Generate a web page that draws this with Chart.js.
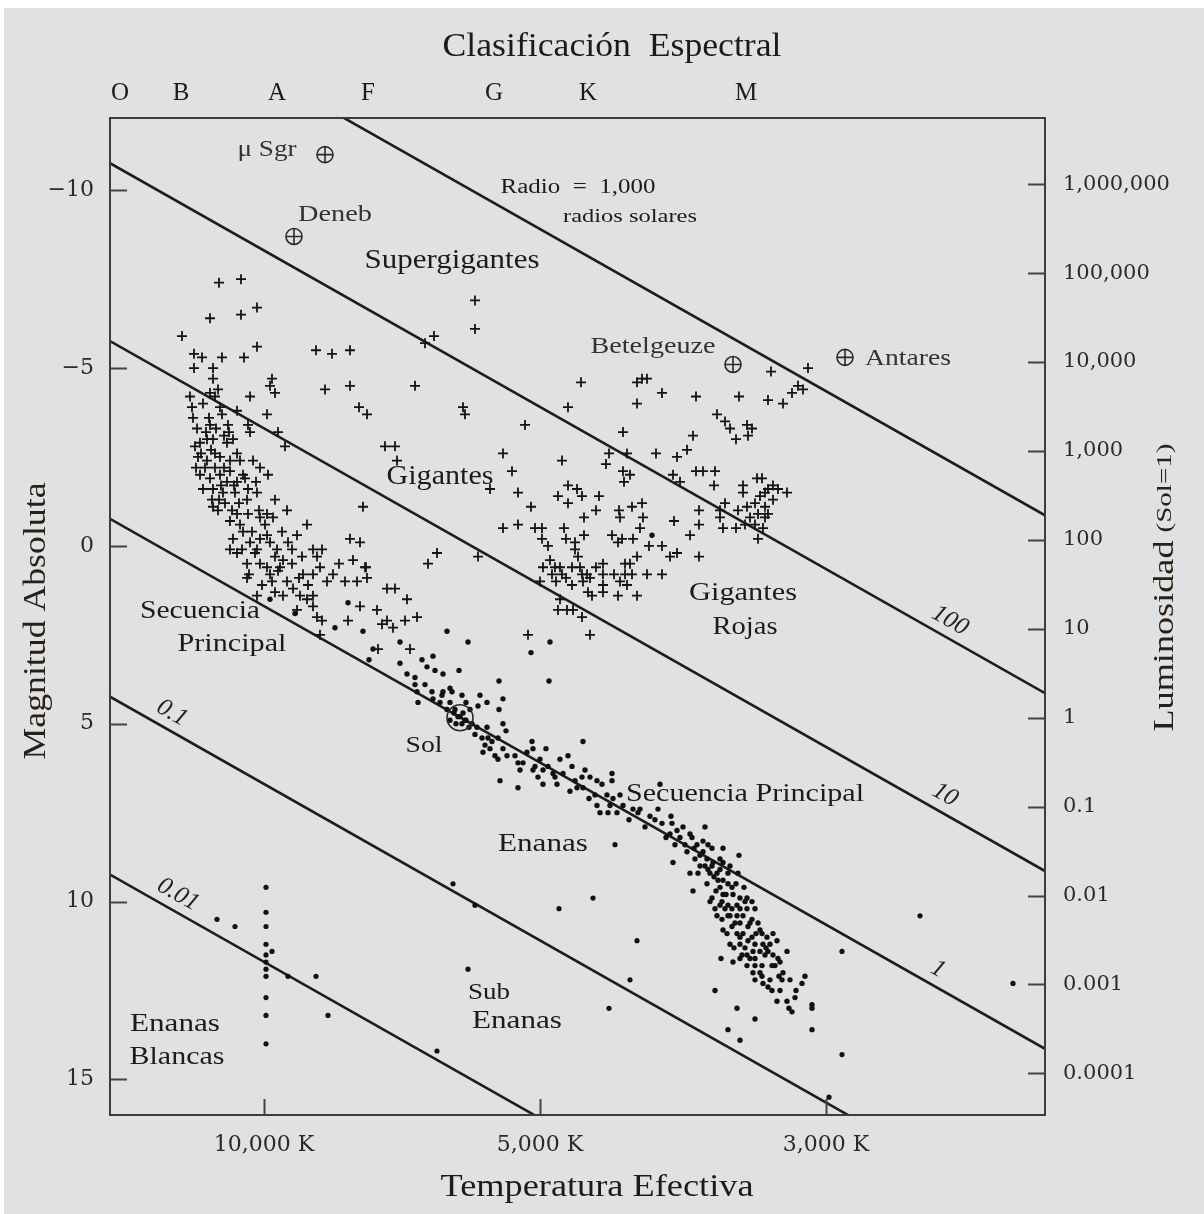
<!DOCTYPE html>
<html lang="es">
<head>
<meta charset="utf-8">
<title>Diagrama Hertzsprung-Russell</title>
<script src="https://cdn.jsdelivr.net/npm/chart.js@4.4.1/dist/chart.umd.min.js"></script>
<style>
  html, body { margin: 0; padding: 0; background: #fff; }
  #wrap { position: absolute; left: 0; top: 0; width: 1204px; height: 1214px; }
</style>
</head>
<body>
<div id="wrap"><canvas id="hr" width="1204" height="1214"></canvas></div>
<script>
'use strict';

/* ---- axes ---- */
// x is a position along the (non-linear) temperature scale, 0 = left edge
const X_MIN = 0, X_MAX = 93.5;
const MAG_MIN = -12.03, MAG_MAX = 16.0;   // absolute magnitude, top / bottom
const SUN_MAG = 4.83;

const spectralClasses = ['O', 'B', 'A', 'F', 'G', 'K', 'M'];
const spectralPos     = [1.0, 7.1, 16.7, 25.8, 38.4, 47.8, 63.6];
const tempLabels      = ['10,000 K', '5,000 K', '3,000 K'];
const tempPos         = [15.4, 43.0, 71.6];
const magTicks        = [-10, -5, 0, 5, 10, 15];
const lumValues       = [1e6, 1e5, 1e4, 1e3, 100, 10, 1, 0.1, 0.01, 0.001, 0.0001];
const lumLabels       = ['1,000,000', '100,000', '10,000', '1,000', '100', '10', '1', '0.1', '0.01', '0.001', '0.0001'];

/* ---- constant radius lines ---- */
const radii        = [0.01, 0.1, 1, 10, 100, 1000];
const radiusLabels = ['0.01', '0.1', '1', '10', '100', ''];
const sunRadiusLine = [[0, -0.76], [93.5, 14.14]];   // R = 1 R_sol

/* ---- stars ---- */
const giants = [
  [10.9,-7.4],[13.1,-7.5],[14.7,-6.7],[13.1,-6.5],[10.0,-6.4],[7.2,-5.9],[14.7,-5.6],[13.4,-5.3],[11.2,-5.3],[8.4,-5.4],
  [9.2,-5.3],[8.4,-5.0],[10.3,-5.0],[10.3,-4.7],[16.2,-4.7],[16.0,-4.5],[16.5,-4.3],[14.0,-4.2],[20.6,-5.5],[22.2,-5.4],
  [24.0,-5.5],[21.5,-4.4],[24.0,-4.5],[24.9,-3.9],[25.7,-3.7],[30.5,-4.5],[32.4,-5.9],[31.5,-5.7],[27.5,-2.8],[28.5,-2.8],
  [28.7,-2.4],[25.3,-1.1],[32.7,0.2],[31.8,0.5],[24.0,-0.2],[25.0,-0.1],[25.6,0.6],
  [10.0,-4.3],[10.8,-4.4],[10.5,-4.2],[8.0,-4.2],[8.2,-3.9],[9.3,-4.0],[11.0,-3.9],[8.3,-3.6],[10.0,-3.4],[11.2,-3.7],
  [11.8,-3.4],[12.7,-3.8],[13.8,-3.4],[14.0,-3.2],[15.7,-3.7],[16.8,-3.2],[17.5,-2.8],
  [8.5,-2.8],[9.0,-2.9],[9.7,-3.0],[10.3,-3.0],[8.8,-2.5],[9.7,-2.4],[10.5,-2.6],[11.7,-2.9],[12.3,-3.0],[12.7,-2.6],
  [12.0,-2.4],[13.0,-2.4],
  [9.0,-2.0],[10.0,-1.9],[11.0,-2.0],[11.7,-1.8],[12.7,-1.8],[9.3,-1.6],[10.3,-1.6],[11.3,-1.5],[12.5,-1.5],[13.5,-1.9],
  [14.3,-2.4],[15.0,-2.2],[15.8,-2.0],[13.8,-1.6],[14.7,-1.5],
  [10.3,-1.1],[10.8,-1.0],[12.2,-1.0],[12.7,-0.9],[13.0,-0.6],[12.0,-0.7],[13.7,-1.3],[13.8,-0.9],[15.0,-0.8],[15.7,-0.9],
  [15.5,-0.6],[16.5,-1.3],[17.7,-1.0],[19.7,-0.6],[13.3,-0.4],
  [12.3,-0.2],[12.0,0.1],[12.7,0.2],[14.0,-0.1],[14.7,0.1],[15.0,-0.2],[15.7,-0.3],[16.7,0.1],[17.8,-0.1],[18.7,-0.3],
  [16.5,0.3],[17.3,0.4],[18.2,0.5],[20.3,0.1],[21.2,0.1],[20.7,0.3],[14.5,0.2],
  [13.7,0.5],[15.0,0.5],[15.7,0.6],[16.0,0.8],[16.8,0.7],[17.7,1.0],[19.3,0.8],[20.3,0.8],[21.7,1.0],[22.3,0.8],
  [23.5,1.0],[24.7,1.0],[25.7,0.9],[25.5,0.6],[13.7,0.9],[16.2,1.0],[16.5,1.3],[17.3,1.4],[18.3,1.2],[19.0,1.4],
  [20.3,1.4],[19.7,1.5],[14.7,1.4],
  [20.3,1.7],[20.7,2.0],[21.2,2.1],[18.7,1.8],[25.0,1.7],[26.7,1.8],[27.2,2.2],[27.7,2.1],[28.3,2.3],[29.5,2.1],
  [29.7,1.5],[30.7,2.0],[28.5,1.2],[27.7,1.2],[23.8,2.1],[26.8,2.9],[30.0,2.9],[21.0,2.5],
  [9.6,-3.2],[10.6,-3.3],[11.4,-3.1],[9.1,-2.6],[10.1,-2.7],[11.0,-2.5],[11.4,-2.2],[10.5,-2.2],[9.5,-2.2],[12.0,-2.1],
  [12.4,-1.7],[11.1,-1.7],[10.2,-1.3],[11.5,-1.2],[12.9,-1.2],[13.3,-2.0],[14.6,-1.8],[14.9,-1.0],[16.3,-0.8],[17.2,-0.4],
  [18.2,0.1],[19.2,0.3],[16.0,-0.1],[13.2,0.1],[13.9,0.8],[15.2,1.1],[18.9,0.9],[21.0,0.6],[22.9,0.5],[24.3,0.4],
  [8.7,-3.3],[9.9,-3.6],[11.9,-3.2],[8.6,-2.2],[10.9,-1.3],[14.2,-0.4],[17.0,0.6],[19.8,1.1],
  [36.5,-6.9],[36.5,-6.1],[35.3,-3.9],[35.5,-3.7],[41.5,-3.4],[47.1,-4.6],[45.8,-3.9],[39.3,-2.6],[40.2,-2.1],[38.0,-1.6],
  [40.8,-1.5],[42.1,-1.1],[39.3,-0.5],[40.8,-0.6],[42.5,-0.5],[43.2,-0.5],[36.8,0.3],[43.0,1.0],[45.2,-2.4],[45.8,-1.7],
  [46.7,-1.6],[44.8,-1.4],[45.8,-1.2],[47.2,-1.4],[48.9,-1.4],[48.6,-1.0],[47.4,-0.8],[45.4,-0.5],[45.6,-0.2],[46.5,-0.1],
  [47.4,-0.3],[43.2,-0.2],[43.8,0.0],[46.5,0.1],[46.8,0.3],[44.0,0.4],[44.5,0.6],[43.3,0.6],[46.2,0.6],[47.0,0.6],
  [47.7,0.8],[45.2,0.8],[46.2,1.1],[47.2,0.8],[47.3,1.0],[49.3,0.5],[49.3,0.8],[49.3,1.1],[49.3,1.3],[48.2,1.4],
  [45.0,1.5],[45.7,1.8],[44.8,1.8],[46.3,1.8],[47.2,2.0],[51.3,-3.2],[51.3,-2.1],[51.4,-1.8],[52.0,-2.0],[49.9,-2.6],
  [49.6,-2.3],[51.7,-2.6],[50.9,-1.0],[51.0,-0.8],[52.2,-1.1],[53.2,-1.2],[53.3,-0.8],[53.0,-0.5],[50.2,-0.3],[51.2,-0.2],
  [52.3,-0.2],[50.8,-0.1],[53.9,0.0],[55.2,0.0],[52.7,0.3],[51.5,0.5],[52.0,0.5],[51.5,0.8],[52.2,0.8],[53.7,0.8],
  [55.2,0.8],[51.0,1.0],[51.7,1.1],[52.7,1.4],[50.8,1.4],[52.7,-4.6],[53.2,-4.7],[53.7,-4.7],[52.7,-4.0],[55.2,-4.3],
  [58.6,-4.2],[54.6,-2.6],[56.7,-2.5],[57.7,-2.7],[58.3,-3.1],[56.3,-2.0],[57.0,-1.8],[56.4,-0.7],[56.0,0.3],[56.7,0.2],
  [58.0,-0.3],[58.9,0.3],[58.9,-1.0],[58.9,-0.6],[58.6,-2.1],[59.3,-2.1],[60.5,-2.1],[60.4,-1.7],[60.7,-3.7],[61.5,-3.5],
  [62.0,-3.3],[62.6,-3.0],[63.7,-3.4],[64.2,-3.3],[63.8,-3.1],[62.9,-4.2],[65.8,-4.1],[67.3,-4.0],[68.2,-4.3],[69.3,-4.4],
  [68.8,-4.5],[66.1,-4.9],[69.8,-5.0],[61.5,-1.2],[61.0,-1.0],[61.0,-0.8],[61.3,-0.5],[62.6,-0.5],[63.3,-1.7],[63.3,-1.5],
  [64.7,-1.9],[65.2,-1.9],[62.8,-1.0],[63.7,-1.1],[64.5,-1.2],[65.0,-1.4],[65.5,-1.5],[65.8,-1.6],[66.3,-1.7],[66.8,-1.6],
  [67.7,-1.5],[64.0,-0.8],[64.8,-0.9],[65.5,-0.8],[65.8,-0.9],[63.5,-0.6],[64.5,-0.6],[65.3,-0.5],[64.8,-0.2],[66.3,-1.3],
  [65.5,-1.1],[48.0,2.5],[41.8,2.5],
  [44.2,0.8],[45.0,0.6],[44.6,1.0],[45.6,0.9],[48.0,0.9],[48.6,0.6],[47.8,1.3],[50.4,0.8]
];

const mainSequence = [
  [54.2,-0.3],
  [23.8,1.6],[22.5,2.3],[16.0,1.5],[18.5,1.9],[25.3,2.4],[26.3,2.9],[29.0,2.7],[33.7,2.4],[25.9,3.2],
  [29.0,3.3],[29.7,3.6],[31.2,3.2],[32.3,3.1],[31.7,3.4],[32.5,3.5],[33.3,3.6],[34.9,3.5],[30.5,3.7],[30.5,3.9],
  [31.5,3.9],[30.7,4.1],[32.2,4.1],[33.3,4.1],[34.0,4.0],[34.2,4.1],[35.2,4.2],[32.3,4.3],[33.0,4.4],[30.8,4.4],
  [34.0,4.4],[33.7,4.6],[34.5,4.6],[35.3,4.7],[34.8,4.8],[35.5,4.9],[35.0,4.8],[34.4,4.7],[35.2,5.0],[35.6,4.9],
  [34.6,5.0],[35.9,5.1],[36.0,4.6],[36.2,5.0],[35.6,4.4],[34.0,4.9],[33.2,4.2],
  [37.0,4.2],[37.7,4.4],[36.8,4.5],[38.9,3.8],[39.3,4.3],[38.9,4.6],[39.3,5.0],[39.6,5.2],[42.1,3.0],[43.9,3.8],
  [35.8,2.7],[44.0,2.7],
  [36.7,5.1],[37.7,5.1],[36.5,5.3],[37.8,5.4],[37.2,5.4],[38.2,5.5],[38.8,5.4],[38.0,5.7],[37.3,5.8],[38.5,5.9],
  [39.3,5.7],[39.7,5.9],[40.5,5.9],[40.8,6.1],[41.7,5.8],[42.2,5.5],[42.3,5.7],[43.6,5.7],[41.3,6.1],[42.5,6.2],
  [42.3,6.3],[43.0,6.0],[43.3,6.3],[42.8,6.5],[44.3,6.4],[44.5,6.5],[45.0,6.0],[45.8,5.9],[45.3,6.4],[44.7,6.7],
  [43.3,6.7],[46.2,6.2],[47.3,5.5],[46.5,6.6],[47.5,6.3],[47.2,6.5],[46.7,6.8],[48.0,6.5],[47.3,6.8],[48.7,6.6],
  [49.2,6.7],[50.2,6.4],[39.0,6.6],[40.8,6.8],[48.5,7.0],[49.7,7.0],[50.3,7.1],[48.7,7.3],[49.0,7.5],[50.0,7.3],
  [49.8,7.5],[51.0,7.0],[51.3,7.3],[50.7,7.5],[52.3,7.4],[52.8,7.5],[55.0,6.7],[50.2,6.6],
  [37.5,5.6],[38.8,6.0],[41.0,6.3],[43.8,6.2],[46.0,6.9],[47.9,7.1],[51.9,7.7],[53.5,7.9],[54.5,7.7],
  [53.0,7.4],[54.8,7.4],[55.2,7.8],[56.2,7.8],[56.0,8.1],[56.7,8.0],[57.0,8.2],[56.5,8.4],[57.3,7.9],[58.0,8.1],
  [58.2,8.2],[59.5,7.9],[58.7,8.4],[59.3,8.6],[59.8,8.4],[60.2,8.5],[59.0,8.7],[56.3,8.9],[58.5,8.8],[59.7,8.8],
  [61.3,8.5],[60.3,8.9],[59.5,9.0],[61.0,8.8],[61.3,8.9],[62.9,8.7],[60.0,9.2],[60.7,9.2],[61.8,9.2],[62.8,9.2],
  [58.0,9.2],[58.8,9.2],[60.8,9.4],[61.3,9.4],[61.8,9.5],[59.7,9.5],[61.0,9.6],[62.2,9.6],[58.3,9.7],[60.2,9.9],
  [60.0,10.0],[61.3,9.8],[62.3,9.8],[63.0,9.9],[63.7,9.9],[61.2,10.0],[61.8,10.1],[62.7,10.1],[60.5,10.2],[61.5,10.2],
  [62.2,10.2],[63.0,10.2],[63.7,10.2],[64.5,10.2],[60.7,10.4],[61.8,10.4],[62.7,10.4],[63.3,10.4],[64.2,10.5],[64.8,10.6],
  [61.3,10.8],[62.2,10.7],[63.0,10.6],[63.8,10.7],[65.0,10.8],[61.7,10.9],[62.7,10.9],[63.3,10.9],[64.2,11.0],[65.2,10.9],
  [65.7,11.0],[66.3,10.9],[66.7,11.1],[62.0,11.2],[63.0,11.2],[63.8,11.1],[64.5,11.2],[65.3,11.2],[66.0,11.2],[63.5,11.3],
  [64.3,11.4],[65.0,11.4],[65.8,11.4],[67.7,11.4],[62.3,11.7],[63.0,11.6],[63.7,11.5],[64.5,11.6],[65.5,11.5],[66.3,11.5],
  [63.7,11.8],[64.5,11.8],[65.2,11.8],[66.2,11.8],[67.0,11.7],[64.3,12.0],[65.2,12.1],[66.5,11.8],[67.3,12.0],[67.2,12.2],
  [64.5,12.2],[65.3,12.3],[66.2,12.5],[67.0,12.5],[66.7,12.8],[67.7,12.8],[68.2,13.1],[68.5,12.7],[68.6,12.5],[69.2,12.3],
  [69.5,12.1],[70.2,12.9],[70.2,13.0],[61.1,11.6],[60.5,12.5],[62.7,13.0],[64.5,13.3],[61.8,13.6],[63.0,13.9],[70.2,13.6],
  [59.0,9.0],[59.8,9.1],[60.4,9.3],[61.0,9.1],[62.0,9.0],[61.6,9.8],[60.6,9.7],[62.6,9.5],[63.4,9.6],[62.0,10.4],
  [61.0,10.1],[63.5,10.0],[64.0,10.6],[62.5,10.6],[61.2,10.5],[63.0,11.0],[64.6,10.9],[65.6,11.3],[64.0,11.6],[66.8,11.6],
  [65.0,12.0],[66.0,12.2],[64.2,10.0],[60.2,9.0],[59.3,8.3],[57.7,8.6],[58.4,8.5],[62.4,11.3],[63.2,11.5],[65.8,12.4],
  [66.9,12.1],[68.0,12.2],[67.9,13.0],[55.6,8.2],[57.5,8.4],[54.0,7.6],[56.1,7.6]
];

const faintStars = [
  [15.6,9.6],[15.6,10.3],[15.6,10.7],[15.6,11.2],[16.2,11.4],[15.6,11.5],[15.6,11.7],[15.6,11.9],[15.6,12.1],[15.6,12.7],
  [15.6,13.2],[15.6,14.0],[10.7,10.5],[12.5,10.7],[17.8,12.1],[20.6,12.1],[21.8,13.2],
  [32.7,14.2],[34.3,9.5],[36.5,10.1],[35.8,11.9],[50.5,8.4],[48.3,9.9],[44.9,10.2],[52.7,11.1],[52.0,12.2],
  [49.9,13.0],[73.2,11.4],[73.2,14.3],[81.0,10.4],[90.3,12.3],[71.9,15.5]
];

const namedStars = ['\u03BC Sgr', 'Deneb', 'Betelgeuze', 'Antares'];
const namedPos   = [[21.5,-11.0], [18.4,-8.7], [62.3,-5.1], [73.5,-5.3]];
const sunPos     = [[35.0, SUN_MAG]];

/* ---- text placed on the plot (data coordinates) ---- */
const SERIF = '"Liberation Serif", "DejaVu Serif", serif';
const plotLabels = [
  { t: '\u03BC Sgr',        x: 15.7, y: -11.13, s: 24, w: 59,  c: '#333' },
  { t: 'Deneb',             x: 22.5, y: -9.32,  s: 24, w: 74,  c: '#333' },
  { t: 'Supergigantes',     x: 34.2, y: -8.03,  s: 28, w: 175 },
  { t: 'Radio  =  1,000',   x: 46.8, y: -10.06, s: 20, w: 155 },
  { t: 'radios solares',    x: 52.0, y: -9.24,  s: 19, w: 134 },
  { t: 'Betelgeuze',        x: 54.3, y: -5.61,  s: 24, w: 125, c: '#333' },
  { t: 'Antares',           x: 79.8, y: -5.27,  s: 24, w: 86,  c: '#333' },
  { t: 'Gigantes',          x: 33.0, y: -1.94,  s: 28, w: 107 },
  { t: 'Secuencia',         x: 9.0,  y: 1.83,   s: 26, w: 120 },
  { t: 'Principal',         x: 12.2, y: 2.76,   s: 26, w: 109 },
  { t: 'Gigantes',          x: 63.3, y: 1.32,   s: 26, w: 108 },
  { t: 'Rojas',             x: 63.5, y: 2.28,   s: 26, w: 65 },
  { t: 'Sol',               x: 31.4, y: 5.63,   s: 24, w: 37 },
  { t: 'Secuencia Principal', x: 63.5, y: 6.99, s: 26, w: 238 },
  { t: 'Enanas',            x: 43.3, y: 8.39,   s: 26, w: 90 },
  { t: 'Sub',               x: 37.9, y: 12.56,  s: 24, w: 42 },
  { t: 'Enanas',            x: 40.7, y: 13.35,  s: 26, w: 90 },
  { t: 'Enanas',            x: 6.5,  y: 13.46,  s: 26, w: 90 },
  { t: 'Blancas',           x: 6.7,  y: 14.37,  s: 26, w: 95 }
];
const radiusLabelPos = [[6.8, 9.8], [6.2, 4.7], [82.8, 11.9], [83.5, 7.0], [84.0, 2.1]];

function radiusLine(r) {
  const off = -5 * Math.log10(r);
  return sunRadiusLine.map(([x, m]) => ({ x, y: m + off }));
}
const toXY = arr => arr.map(([x, y]) => ({ x, y }));

function drawText(ctx, text, cx, cy, size, width, opts = {}) {
  ctx.save();
  ctx.font = (opts.italic ? 'italic ' : '') + size + 'px ' + (opts.family || SERIF);
  ctx.fillStyle = opts.color || '#1b1b1b';
  ctx.textAlign = 'center';
  ctx.textBaseline = 'middle';
  ctx.translate(cx, cy);
  if (opts.rot) ctx.rotate(opts.rot);
  if (width) ctx.scale(width / ctx.measureText(text).width, 1);
  ctx.fillText(text, 0, 0);
  ctx.restore();
}

const hrPlugin = {
  id: 'hrDecor',
  beforeDraw(chart) {
    const ctx = chart.ctx;
    ctx.save();
    ctx.fillStyle = '#e0e1e3';
    ctx.fillRect(4, 8, chart.width - 4, chart.height - 8);
    ctx.restore();
  },
  afterDraw(chart) {
    const { ctx, chartArea: a, scales } = chart;
    const sx = scales.x, sy = scales.y;

    // frame
    ctx.save();
    ctx.strokeStyle = '#3c3c3c';
    ctx.lineWidth = 2;
    ctx.strokeRect(a.left, a.top, a.right - a.left, a.bottom - a.top);

    // inward tick marks
    ctx.lineWidth = 2;
    ctx.strokeStyle = '#444';
    ctx.beginPath();
    magTicks.forEach(m => {
      const y = Math.round(sy.getPixelForValue(m)) + 0.5;
      ctx.moveTo(a.left, y); ctx.lineTo(a.left + 17, y);
    });
    scales.yL.ticks.forEach(t => {
      const y = Math.round(scales.yL.getPixelForValue(t.value)) + 0.5;
      ctx.moveTo(a.right - 17, y); ctx.lineTo(a.right, y);
    });
    tempPos.forEach(v => {
      const x = Math.round(sx.getPixelForValue(v)) + 0.5;
      ctx.moveTo(x, a.bottom); ctx.lineTo(x, a.bottom - 16);
    });
    ctx.stroke();
    ctx.restore();

    // labels on the radius lines, rotated along the lines
    const l0 = radiusLine(1);
    const ang = Math.atan2(sy.getPixelForValue(l0[1].y) - sy.getPixelForValue(l0[0].y),
                           sx.getPixelForValue(l0[1].x) - sx.getPixelForValue(l0[0].x));
    radiusLabelPos.forEach(([x, y], i) => {
      drawText(ctx, radiusLabels[i], sx.getPixelForValue(x), sy.getPixelForValue(y), 25, null,
               { italic: true, rot: ang, color: '#222' });
    });

    // region and star names
    plotLabels.forEach(l => {
      drawText(ctx, l.t, sx.getPixelForValue(l.x), sy.getPixelForValue(l.y), l.s, l.w, { color: l.c });
    });

    // titles
    drawText(ctx, 'Clasificaci\u00F3n  Espectral', 612, 47, 34, 339);
    drawText(ctx, 'Temperatura Efectiva', 597, 1188, 32, 313);
    drawText(ctx, 'Magnitud Absoluta', 37, 621, 32, 277, { rot: -Math.PI / 2, color: '#2a1f14' });
    drawText(ctx, 'Luminosidad', 1165, 636, 30, 191, { rot: -Math.PI / 2, color: '#2a1f14' });
    drawText(ctx, '(Sol=1)', 1165, 488, 22, 89, { rot: -Math.PI / 2, color: '#2a1f14' });
  }
};

const lineDatasets = radii.map(r => ({
  data: radiusLine(r),
  showLine: true,
  borderColor: '#1d1d1d',
  borderWidth: 2.6,
  pointRadius: 0,
  clip: 0,
  order: 5
}));

const datasets = [
  ...lineDatasets,
  { data: toXY(giants), pointStyle: 'cross', pointRadius: 5, borderColor: '#141414', borderWidth: 1.8, order: 4 },
  { data: toXY(mainSequence), pointStyle: 'circle', pointRadius: 2.7, backgroundColor: '#111', borderWidth: 0, order: 3 },
  { data: toXY(faintStars), pointStyle: 'circle', pointRadius: 2.6, backgroundColor: '#111', borderWidth: 0, order: 3 },
  { data: toXY(sunPos), pointStyle: 'circle', pointRadius: 13, backgroundColor: 'rgba(0,0,0,0)', borderColor: '#2a2a2a', borderWidth: 1.6, order: 2 },
  { data: toXY(namedPos), pointStyle: 'circle', pointRadius: 8, backgroundColor: 'rgba(0,0,0,0)', borderColor: '#2a2a2a', borderWidth: 1.6, order: 1 },
  { data: toXY(namedPos), pointStyle: 'cross', pointRadius: 8, borderColor: '#2a2a2a', borderWidth: 1.6, order: 1 }
];

const tickFont = { family: SERIF, size: 25 };
const numFont  = { family: '"DejaVu Serif", serif', size: 21 };

new Chart(document.getElementById('hr'), {
  type: 'scatter',
  data: { datasets },
  options: {
    responsive: false,
    animation: false,
    devicePixelRatio: 1,
    layout: { padding: 0 },
    plugins: { legend: { display: false }, tooltip: { enabled: false } },
    scales: {
      x: {
        type: 'linear', position: 'bottom', min: X_MIN, max: X_MAX,
        grid: { display: false, drawTicks: false }, border: { display: false },
        afterBuildTicks: s => { s.ticks = tempPos.map(v => ({ value: v })); },
        afterFit: s => { s.height = 99; },
        ticks: { callback: (v, i) => tempLabels[i], font: { family: '"DejaVu Serif", serif', size: 22 },
                 color: '#2a2a2a', padding: 17, maxRotation: 0, autoSkip: false }
      },
      x2: {
        type: 'linear', position: 'top', min: X_MIN, max: X_MAX,
        grid: { display: false, drawTicks: false }, border: { display: false },
        afterBuildTicks: s => { s.ticks = spectralPos.map(v => ({ value: v })); },
        afterFit: s => { s.height = 118; },
        ticks: { callback: (v, i) => spectralClasses[i], font: tickFont, color: '#1b1b1b',
                 padding: 10, maxRotation: 0, autoSkip: false }
      },
      y: {
        type: 'linear', position: 'left', reverse: true, min: MAG_MIN, max: MAG_MAX,
        grid: { display: false, drawTicks: false }, border: { display: false },
        afterBuildTicks: s => { s.ticks = magTicks.map(v => ({ value: v })); },
        afterFit: s => { s.width = 110; },
        ticks: { callback: v => (v < 0 ? '\u2212' + Math.abs(v) : String(v)), font: { family: '"DejaVu Serif", serif', size: 22 },
                 color: '#2a2a2a', padding: 16, autoSkip: false }
      },
      yL: {
        type: 'linear', position: 'right', reverse: true, min: MAG_MIN, max: MAG_MAX,
        grid: { display: false, drawTicks: false }, border: { display: false },
        afterBuildTicks: s => { s.ticks = lumValues.map(L => ({ value: SUN_MAG - 2.5 * Math.log10(L) })); },
        afterFit: s => { s.width = 159; },
        ticks: { callback: (v, i) => lumLabels[i], font: numFont, color: '#2a2a2a', padding: 18, autoSkip: false }
      }
    }
  },
  plugins: [hrPlugin]
});
</script>
</body>
</html>
